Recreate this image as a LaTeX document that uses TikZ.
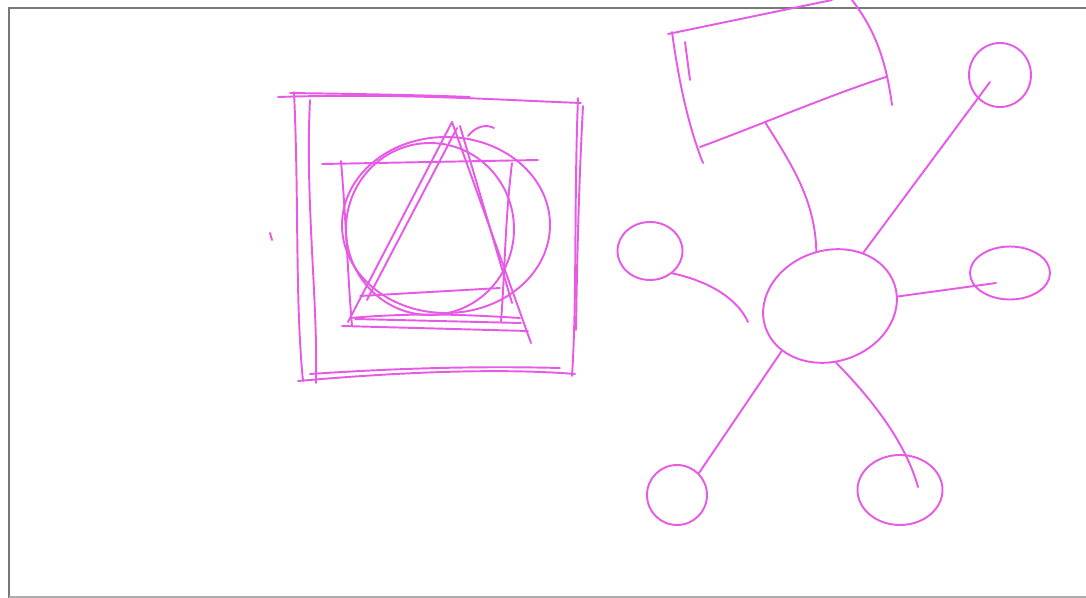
\documentclass[tikz,border=0pt]{standalone}
\usetikzlibrary{shapes.geometric}
\definecolor{pen}{RGB}{230,90,230}
\definecolor{framegray}{RGB}{120,120,120}
\tikzset{
  pen/.style={draw=pen, line width=1.1pt, line cap=round, line join=round},
  loop/.style={pen, ellipse, inner sep=0pt},
  frameline/.style={draw=framegray, line width=1.2pt}
}
\begin{document}
\begin{tikzpicture}[x=0.02cm, y=-0.02cm]
\useasboundingbox (0,0) rectangle (1086,598);
% frame
\draw[frameline] (9,598) -- (9,8) -- (1086,8);
\draw[draw=framegray!60, line width=0.8pt] (9,597) -- (1086,597);

% ---------- left figure: sketched square, inner square, circle, triangle
% outer square
\draw[pen] (278,97) .. controls (400,93) and (500,100) .. (581,103);
\draw[pen] (290,93) .. controls (360,94) and (420,95) .. (470,97);
\draw[pen] (578,98) .. controls (574,200) and (577,300) .. (572,376);
\draw[pen] (583,106) .. controls (579,180) and (577,260) .. (576,330);
\draw[pen] (298,381) .. controls (400,372) and (500,368) .. (575,374);
\draw[pen] (310,374) .. controls (400,368) and (480,366) .. (560,368);
\draw[pen] (294,92) .. controls (299,200) and (295,300) .. (303,381);
\draw[pen] (310,100) .. controls (305,200) and (318,300) .. (316,383);
\draw[pen] (270,233) -- (272,240);
% inner square
\draw[pen] (322,164) -- (538,160);
\draw[pen] (341,161) .. controls (346,220) and (348,280) .. (352,326);
\draw[pen] (342,326) -- (528,331);
\draw[pen] (355,319) -- (521,323);
\draw[pen] (512,163) .. controls (505,220) and (505,270) .. (501,322);
% circles
\draw[pen] (446,225) ellipse [x radius=104, y radius=88];
\draw[pen] (430,229) ellipse [x radius=84, y radius=86];
% triangles
\draw[pen] (452,122) -- (348,322);
\draw[pen] (452,122) -- (531,343);
\draw[pen] (457,128) -- (367,300);
\draw[pen] (460,126) -- (512,303);
\draw[pen] (360,296) -- (500,288);
\draw[pen] (350,318) .. controls (420,312) and (470,315) .. (520,318);
% little curl at the top
\draw[pen] (468,136) .. controls (476,126) and (486,124) .. (494,128);

% ---------- right figure: box, hub and five loops
\draw[pen] (668,34) -- (832,0);
\draw[pen] (672,32) .. controls (680,90) and (690,130) .. (703,163);
\draw[pen] (685,42) -- (690,80);
\draw[pen] (700,147) .. controls (760,125) and (830,95) .. (886,77);
\draw[pen] (852,0) .. controls (875,30) and (886,60) .. (892,105);
\coordinate (rb) at (765,122);

\node[loop, minimum width=2.72cm, minimum height=2.22cm, rotate=18] (hub) at (830,306) {};
\node[loop, minimum width=1.24cm, minimum height=1.28cm] (ur) at (1000,75) {};
\node[loop, minimum width=1.30cm, minimum height=1.16cm] (lf) at (650,251) {};
\node[loop, minimum width=1.60cm, minimum height=1.06cm] (rt) at (1010,273) {};
\node[loop, minimum width=1.20cm, minimum height=1.20cm] (ll) at (677,495) {};
\node[loop, minimum width=1.70cm, minimum height=1.40cm] (lr) at (900,490) {};

\coordinate (lfend) at (748,322);
\coordinate (urend) at (990,82);
\coordinate (rtend) at (996,283);
\coordinate (lrend) at (918,487);

\draw[pen] (rb) .. controls (792,165) and (815,200) .. (hub.86);
\draw[pen] (hub.40) -- (urend);
\draw[pen] (lf.-45) .. controls (712,282) and (738,300) .. (lfend);
\draw[pen] (hub.-10) -- (rtend);
\draw[pen] (hub.205) -- (ll.45);
\draw[pen] (hub.258) .. controls (868,395) and (905,440) .. (lrend);
\end{tikzpicture}
\end{document}
